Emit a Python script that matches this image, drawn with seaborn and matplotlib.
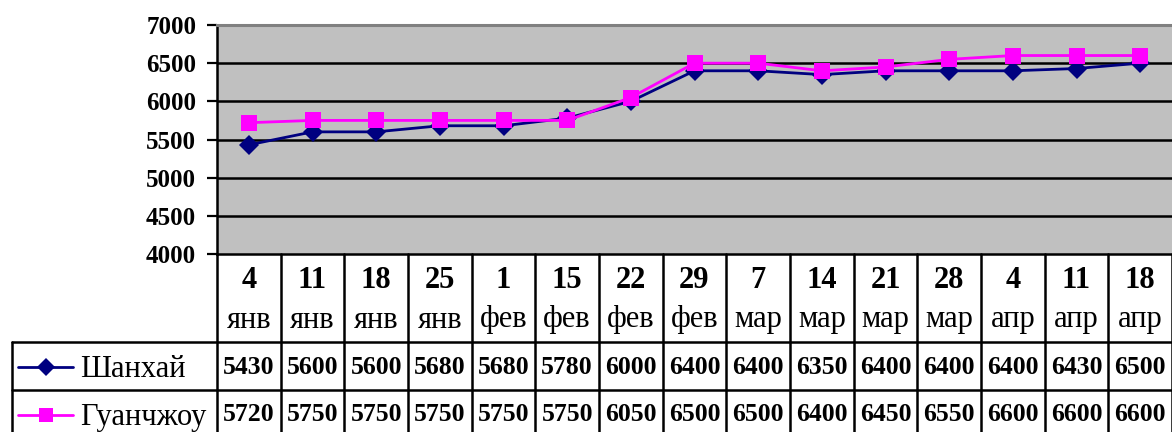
import matplotlib
matplotlib.use("Agg")
import matplotlib.pyplot as plt
import matplotlib.transforms as mtransforms
import seaborn as sns
import pandas as pd

days = ["4", "11", "18", "25", "1", "15", "22", "29", "7", "14", "21", "28", "4", "11", "18"]
months = ["янв", "янв", "янв", "янв", "фев", "фев", "фев", "фев", "мар", "мар", "мар", "мар", "апр", "апр", "апр"]
series_names = ["Шанхай", "Гуанчжоу"]
shanghai = [5430, 5600, 5600, 5680, 5680, 5780, 6000, 6400, 6400, 6350, 6400, 6400, 6400, 6430, 6500]
guangzhou = [5720, 5750, 5750, 5750, 5750, 5750, 6050, 6500, 6500, 6400, 6450, 6550, 6600, 6600, 6600]
yticks = [4000, 4500, 5000, 5500, 6000, 6500, 7000]

colors = {"Шанхай": "#000080", "Гуанчжоу": "#FF00FF"}
markers = {"Шанхай": "D", "Гуанчжоу": "s"}
msizes = {"Шанхай": 10, "Гуанчжоу": 11}

sns.set_theme(style="white")
plt.rcParams["font.family"] = ["Liberation Serif", "DejaVu Serif"]
plt.rcParams["text.color"] = "black"
plt.rcParams["ytick.labelcolor"] = "black"
plt.rcParams["ytick.color"] = "black"

rows = []
for name, vals in zip(series_names, [shanghai, guangzhou]):
    for i, v in enumerate(vals):
        rows.append({"idx": i, "value": v, "city": name})
df = pd.DataFrame(rows)

W, H = 1172, 432
fig = plt.figure(figsize=(W / 100, H / 100), dpi=100)
ax = fig.add_axes([217 / W, (H - 254) / H, 955 / W, (254 - 25) / H])
ax.set_facecolor("#C0C0C0")

sns.lineplot(data=df, x="idx", y="value", hue="city", style="city",
             hue_order=series_names, style_order=series_names,
             palette=colors, markers=markers, dashes=False,
             markersize=10, markeredgewidth=0, linewidth=2.0,
             legend=False, sort=False, ax=ax, zorder=3)
for line, name in zip(ax.get_lines(), series_names):
    line.set_markersize(msizes[name])

ax.set_xlim(-0.5, len(days) - 0.5)
ax.set_ylim(4000, 7000)
ax.set_yticks(yticks)
ax.set_yticklabels([str(t) for t in yticks], fontsize=18, fontweight="bold", color="black")
ax.set_xticks([])
ax.set_xlabel("")
ax.set_ylabel("")
ax.tick_params(axis="y", direction="out", length=7, width=1.6, color="black", pad=8, left=True)
for t in yticks[1:-1]:
    ax.axhline(t, color="black", lw=1.8, zorder=1)
ax.spines["top"].set_color("#808080")
ax.spines["top"].set_linewidth(2.2)
ax.spines["right"].set_visible(False)
ax.spines["left"].set_color("black")
ax.spines["left"].set_linewidth(1.8)
ax.spines["bottom"].set_color("black")
ax.spines["bottom"].set_linewidth(1.8)

trans = mtransforms.blended_transform_factory(ax.transData, ax.transAxes)

def ay(py):
    return (254 - py) / 229.0

y_day, y_mon = ay(281), ay(320)
y_r1line, y_r1, y_r2line, y_r2, y_bot = ay(342), ay(367), ay(390), ay(415), ay(440)
x_left = -0.5 - (217 - 12) / 63.67
n = len(days)

for k in range(n + 1):
    ax.plot([k - 0.5, k - 0.5], [0, y_bot], transform=trans, color="black", lw=1.8, clip_on=False)
ax.plot([x_left, x_left], [y_r1line, y_bot], transform=trans, color="black", lw=1.8, clip_on=False)
for yy in (y_r1line, y_r2line):
    ax.plot([x_left, n - 0.5], [yy, yy], transform=trans, color="black", lw=1.8, clip_on=False)

for i, (d, m) in enumerate(zip(days, months)):
    ax.text(i, y_day, d, transform=trans, ha="center", va="center", fontsize=22, fontweight="bold",
            color="black", clip_on=False)
    ax.text(i, y_mon, m, transform=trans, ha="center", va="center", fontsize=22,
            color="black", clip_on=False)

kx0 = -0.5 - (217 - 18) / 63.67
kx1 = -0.5 - (217 - 73) / 63.67
kxm = -0.5 - (217 - 46) / 63.67
for name, vals, yy in zip(series_names, [shanghai, guangzhou], [y_r1, y_r2]):
    for i, v in enumerate(vals):
        ax.text(i, yy, str(v), transform=trans, ha="center", va="center", fontsize=18.5,
                fontweight="bold", color="black", clip_on=False)
    ax.plot([kx0, kx1], [yy, yy], transform=trans, color=colors[name], lw=2.0, clip_on=False)
    ax.plot([kxm], [yy], transform=trans, color=colors[name], marker=markers[name],
            markersize=msizes[name] - 1, markeredgewidth=0, clip_on=False)
    ax.text(-0.5 - (217 - 80) / 63.67, yy - 0.01, name, transform=trans, ha="left", va="center",
            fontsize=22, color="black", clip_on=False)

fig.savefig("out.png", dpi=100)
